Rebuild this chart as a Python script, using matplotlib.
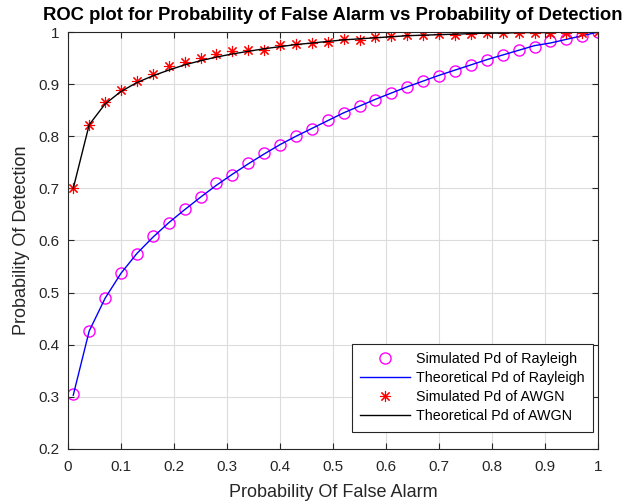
import matplotlib
matplotlib.use('Agg')
import matplotlib.pyplot as plt

plt.rcParams['font.family'] = ['Liberation Sans', 'DejaVu Sans']

# Datos
pf = [0.01, 0.04, 0.07, 0.10, 0.13, 0.16, 0.19, 0.22, 0.25, 0.28, 0.31, 0.34,
      0.37, 0.40, 0.43, 0.46, 0.49, 0.52, 0.55, 0.58, 0.61, 0.64, 0.67, 0.70,
      0.73, 0.76, 0.79, 0.82, 0.85, 0.88, 0.91, 0.94, 0.97, 1.00]

pd_ray_sim = [0.305, 0.427, 0.490, 0.538, 0.574, 0.608, 0.634, 0.660, 0.684, 0.711,
              0.726, 0.749, 0.767, 0.784, 0.800, 0.813, 0.831, 0.845, 0.858, 0.870,
              0.884, 0.894, 0.906, 0.915, 0.926, 0.937, 0.946, 0.956, 0.966, 0.972,
              0.982, 0.987, 0.993, 1.000]
pd_ray_theo = [0.303, 0.426, 0.489, 0.537, 0.575, 0.606, 0.634, 0.659, 0.683, 0.706,
               0.727, 0.747, 0.766, 0.784, 0.800, 0.815, 0.830, 0.845, 0.858, 0.871,
               0.883, 0.895, 0.906, 0.917, 0.927, 0.937, 0.947, 0.956, 0.965, 0.974,
               0.979, 0.986, 0.993, 1.000]

pd_awgn_sim = [0.700, 0.822, 0.866, 0.889, 0.907, 0.919, 0.934, 0.942, 0.951, 0.958,
               0.963, 0.966, 0.965, 0.975, 0.977, 0.979, 0.981, 0.986, 0.984, 0.990,
               0.992, 0.994, 0.994, 0.996, 0.995, 0.997, 0.998, 0.998, 0.998, 0.999,
               0.999, 0.999, 0.999, 1.000]
pd_awgn_theo = [0.700, 0.822, 0.862, 0.886, 0.903, 0.916, 0.927, 0.937, 0.945, 0.952,
                0.958, 0.963, 0.968, 0.972, 0.976, 0.979, 0.982, 0.985, 0.987, 0.989,
                0.991, 0.993, 0.994, 0.995, 0.996, 0.997, 0.998, 0.998, 0.999, 0.999,
                0.999, 1.000, 1.000, 1.000]

xticks = [0, 0.1, 0.2, 0.3, 0.4, 0.5, 0.6, 0.7, 0.8, 0.9, 1]
xticklabels = ['0', '0.1', '0.2', '0.3', '0.4', '0.5', '0.6', '0.7', '0.8', '0.9', '1']
yticks = [0.2, 0.3, 0.4, 0.5, 0.6, 0.7, 0.8, 0.9, 1]
yticklabels = ['0.2', '0.3', '0.4', '0.5', '0.6', '0.7', '0.8', '0.9', '1']

fig = plt.figure(figsize=(6.35, 5.01), dpi=100)
ax = fig.add_axes([0.107, 0.104, 0.835, 0.832])

ax.plot(pf, pd_ray_sim, 'o', color='#FF00FF', markerfacecolor='none', markersize=8,
        markeredgewidth=1.0, label='Simulated Pd of Rayleigh')
ax.plot(pf, pd_ray_theo, '-', color='#0000FF', linewidth=1.0, label='Theoretical Pd of Rayleigh')
ax.plot(pf, pd_awgn_sim, linestyle='none', marker=(8, 2, 0), color='#FF0000', markersize=8,
        markeredgewidth=0.8, label='Simulated Pd of AWGN')
ax.plot(pf, pd_awgn_theo, '-', color='black', linewidth=1.0, label='Theoretical Pd of AWGN')

ax.set_xlim(0, 1)
ax.set_ylim(0.2, 1)
ax.set_xticks(xticks)
ax.set_xticklabels(xticklabels)
ax.set_yticks(yticks)
ax.set_yticklabels(yticklabels)
ax.tick_params(direction='in', top=True, right=True, labelsize=11, colors='#262626',
               length=4, pad=6)
ax.tick_params(axis='x', pad=8)
for s in ax.spines.values():
    s.set_color('#262626')
    s.set_linewidth(0.8)
ax.grid(True, color='#DCDCDC', linewidth=0.8)
ax.set_axisbelow(True)

ax.set_title('ROC plot for Probability of False Alarm vs Probability of Detection',
             fontsize=13.3, fontweight='bold', pad=9)
ax.set_xlabel('Probability Of False Alarm', fontsize=13, color='#262626', labelpad=7)
ax.set_ylabel('Probability Of Detection', fontsize=13, color='#262626', labelpad=6)

leg = ax.legend(loc='lower right', bbox_to_anchor=(0.991, 0.041), borderaxespad=0,
                fontsize=10.3, fancybox=False, framealpha=1, edgecolor='#262626',
                handlelength=3.5, handletextpad=0.4, labelspacing=0.35,
                borderpad=0.6)
leg.get_frame().set_linewidth(0.8)

fig.savefig('out.png', dpi=100)
